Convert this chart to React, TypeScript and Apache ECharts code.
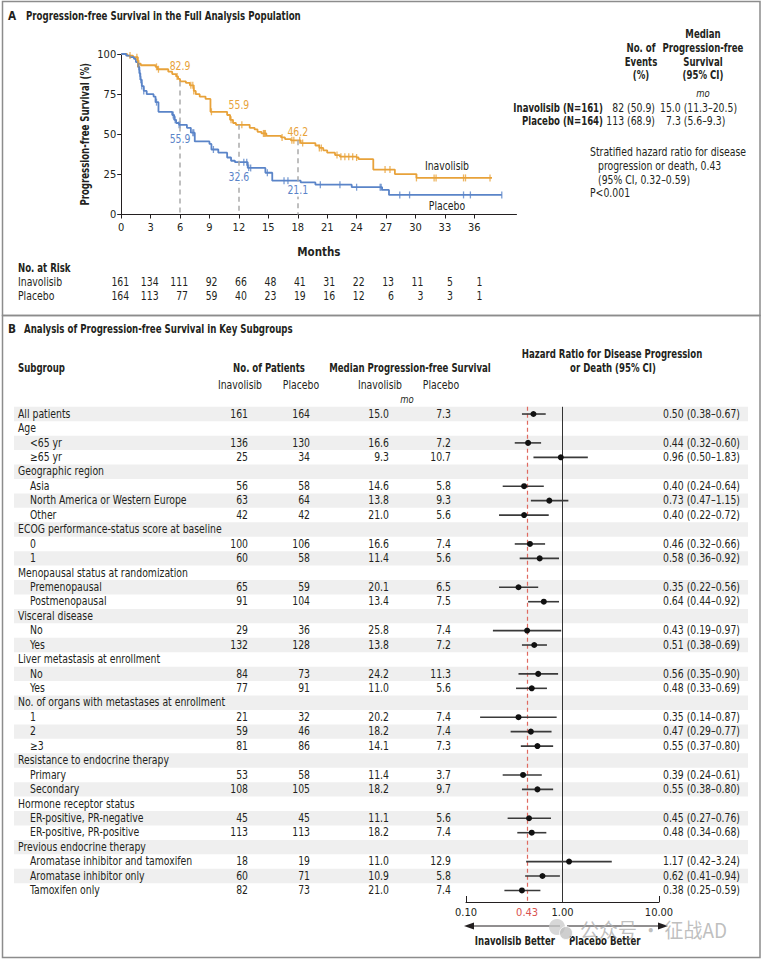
import React, { useEffect, useRef } from "react";
import * as echarts from "echarts";

const FONT = '"DejaVu Sans Condensed", "DejaVu Sans", sans-serif';
const INK = "#231f20";
const ORANGE = "#E8A23A";
const BLUE = "#5A84C8";
const SX_N = 0.9;
const SX_B = 0.83;

// ---------- Panel A data ----------
const monthTicks = [0, 3, 6, 9, 12, 15, 18, 21, 24, 27, 30, 33, 36];
const inavSteps: [number, number][] = [
  [0, 100], [0.6, 99], [1.2, 98], [1.7, 94], [2.0, 93], [3.5, 92], [3.7, 90.5], [4.8, 89], [5.2, 87.5],
  [5.6, 86], [5.8, 84.5], [6.0, 82.9], [6.6, 82], [7.0, 80.5], [7.4, 77], [7.6, 75], [8.0, 73.5], [8.6, 72],
  [9.1, 64], [10.8, 62], [11.1, 59], [11.4, 57], [11.7, 55.9], [13.1, 54], [13.6, 53], [13.9, 51.5],
  [14.3, 50.5], [14.8, 49], [16.3, 48], [16.7, 47], [17.3, 46.2], [18.3, 44.5], [19.8, 43], [20.2, 41.5],
  [20.6, 40], [21.0, 38.5], [21.8, 37], [22.3, 36], [24.0, 35.5], [24.2, 34.5], [25.7, 28], [27.9, 25.2],
  [30.1, 22.8], [37.8, 22.8],
];
const placSteps: [number, number][] = [
  [0, 100], [0.5, 99], [0.9, 98], [1.3, 97], [1.5, 95], [1.7, 92], [1.85, 88], [1.95, 84], [2.1, 80],
  [2.3, 77], [2.6, 75], [3.3, 73.5], [3.5, 70], [3.8, 64], [5.2, 62], [5.4, 59], [5.6, 57], [5.9, 55.9],
  [6.7, 54], [7.1, 51], [7.5, 45.5], [9.0, 44], [9.2, 40.5], [9.9, 38.5], [10.8, 35.5], [11.2, 33.5],
  [11.6, 32.6], [12.9, 29], [14.7, 26], [15.4, 21.1], [18.3, 20], [19.8, 18.6], [23.5, 17], [26.6, 15.3],
  [27.3, 12.2], [38.8, 12.2],
];
const inavCensor = [0.9, 1.6, 1.7, 1.8, 3.6, 3.8, 5.7, 7.1, 7.3, 7.4, 9.2, 11.2, 12.3, 14.5, 14.6, 14.7, 16.4,
  17.4, 17.6, 18.2, 18.5, 20.2, 20.4, 22.0, 22.4, 22.8, 23.2, 23.6, 24.0, 26.9, 27.4, 30.1, 31.9, 32.1, 34.9, 35.1, 37.6];
const placCensor = [1.8, 1.9, 2.0, 2.1, 2.3, 3.6, 5.3, 5.5, 5.9, 6.0, 7.3, 7.4, 9.4, 12.5, 12.8, 13.0, 13.2, 14.9,
  16.6, 17.0, 20.3, 22.3, 24.0, 26.4, 26.5, 28.4, 29.4, 34.9, 35.6, 38.8];
const landmarkMonths = [6, 12, 18];
const inavLandmark = [82.9, 55.9, 46.2];
const placLandmark = [55.9, 32.6, 21.1];
const riskInav = [161, 134, 111, 92, 66, 48, 41, 31, 22, 13, 11, 5, 1];
const riskPlac = [164, 113, 77, 59, 40, 23, 19, 16, 12, 6, 3, 3, 1];

// ---------- Panel B data ----------
const subgroupLabels = [
  "All patients", "Age", "<65 yr", "≥65 yr", "Geographic region", "Asia", "North America or Western Europe", "Other",
  "ECOG performance-status score at baseline", "0", "1", "Menopausal status at randomization", "Premenopausal",
  "Postmenopausal", "Visceral disease", "No", "Yes", "Liver metastasis at enrollment", "No", "Yes",
  "No. of organs with metastases at enrollment", "1", "2", "≥3", "Resistance to endocrine therapy", "Primary",
  "Secondary", "Hormone receptor status", "ER-positive, PR-negative", "ER-positive, PR-positive",
  "Previous endocrine therapy", "Aromatase inhibitor and tamoxifen", "Aromatase inhibitor only", "Tamoxifen only",
];
const subgroupLevel = [0, 0, 1, 1, 0, 1, 1, 1, 0, 1, 1, 0, 1, 1, 0, 1, 1, 0, 1, 1, 0, 1, 1, 1, 0, 1, 1, 0, 1, 1, 0, 1, 1, 1];
const nInav = [161, null, 136, 25, null, 56, 63, 42, null, 100, 60, null, 65, 91, null, 29, 132, null, 84, 77, null, 21, 59, 81, null, 53, 108, null, 45, 113, null, 18, 60, 82];
const nPlac = [164, null, 130, 34, null, 58, 64, 42, null, 106, 58, null, 59, 104, null, 36, 128, null, 73, 91, null, 32, 46, 86, null, 58, 105, null, 45, 113, null, 19, 71, 73];
const medInav = [15.0, null, 16.6, 9.3, null, 14.6, 13.8, 21.0, null, 16.6, 11.4, null, 20.1, 13.4, null, 25.8, 13.8, null, 24.2, 11.0, null, 20.2, 18.2, 14.1, null, 11.4, 18.2, null, 11.1, 18.2, null, 11.0, 10.9, 21.0];
const medPlac = [7.3, null, 7.2, 10.7, null, 5.8, 9.3, 5.6, null, 7.4, 5.6, null, 6.5, 7.5, null, 7.4, 7.2, null, 11.3, 5.6, null, 7.4, 7.4, 7.3, null, 3.7, 9.7, null, 5.6, 7.4, null, 12.9, 5.8, 7.4];
const hr = [0.50, null, 0.44, 0.96, null, 0.40, 0.73, 0.40, null, 0.46, 0.58, null, 0.35, 0.64, null, 0.43, 0.51, null, 0.56, 0.48, null, 0.35, 0.47, 0.55, null, 0.39, 0.55, null, 0.45, 0.48, null, 1.17, 0.62, 0.38];
const hrLo = [0.38, null, 0.32, 0.50, null, 0.24, 0.47, 0.22, null, 0.32, 0.36, null, 0.22, 0.44, null, 0.19, 0.38, null, 0.35, 0.33, null, 0.14, 0.29, 0.37, null, 0.24, 0.38, null, 0.27, 0.34, null, 0.42, 0.41, 0.25];
const hrHi = [0.67, null, 0.60, 1.83, null, 0.64, 1.15, 0.72, null, 0.66, 0.92, null, 0.56, 0.92, null, 0.97, 0.69, null, 0.90, 0.69, null, 0.87, 0.77, 0.80, null, 0.61, 0.80, null, 0.76, 0.68, null, 3.24, 0.94, 0.59];
const overallHR = 0.43;
const hrTicks = [0.1, 0.43, 1, 10];

function survivalAt(steps: [number, number][], t: number) {
  let v = steps[0][1];
  for (const [m, s] of steps) if (m <= t) v = s;
  return v;
}

function T(text: string, x: number, y: number, o: any = {}) {
  return {
    type: "text",
    silent: true,
    z: o.z ?? 10,
    x,
    y,
    rotation: o.rot ?? 0,
    scaleX: o.sx ?? (o.bold ? SX_B : SX_N),
    style: {
      text,
      x: 0,
      y: 0,
      fill: o.fill ?? INK,
      fontSize: o.size ?? 11.5,
      fontWeight: o.bold ? "bold" : "normal",
      fontStyle: o.italic ? "italic" : "normal",
      fontFamily: o.family ?? FONT,
      align: o.align ?? "left",
      verticalAlign: "middle",
      backgroundColor: o.bg,
      padding: o.bg ? [0, 1] : 0,
    },
  };
}

export default function App() {
  const ref = useRef<HTMLDivElement>(null);
  useEffect(() => {
    document.body.style.margin = "0";
    const chart = echarts.init(ref.current!, null, { renderer: "svg" });
    const rows = subgroupLabels.map((_, i) => i);
    const forestData = rows.filter((i) => hr[i] != null).map((i) => [i, hr[i], hrLo[i], hrHi[i]]);

    chart.setOption({
      animation: false,
      backgroundColor: "#fff",
      textStyle: { fontFamily: FONT },
      grid: [
        { left: 121.2, top: 54, width: 395.3, height: 160.5, outerBoundsMode: "none", containLabel: false },
        { left: 466, top: 406.8, width: 193, height: 495.2, outerBoundsMode: "none", containLabel: false },
      ],
      xAxis: [
        {
          type: "value", gridIndex: 0, min: 0, max: 40.3, interval: 3,
          axisLine: { show: true, onZero: false, lineStyle: { color: INK, width: 1 } },
          axisTick: { show: true, customValues: monthTicks, length: 4, lineStyle: { color: INK } },
          axisLabel: { customValues: monthTicks, fontSize: 11, color: INK, margin: 7, fontFamily: FONT },
          splitLine: { show: false },
          name: "Months", nameLocation: "middle", nameGap: 31,
          nameTextStyle: { fontWeight: "bold", fontSize: 11.5, color: INK, fontFamily: FONT },
        },
        {
          type: "log", logBase: 10, gridIndex: 1, min: 0.1, max: 10, position: "bottom",
          axisLine: { show: true, onZero: false, lineStyle: { color: INK, width: 1 } },
          axisTick: { show: true, customValues: [0.1, 10], inside: true, length: 6, lineStyle: { color: INK } },
          axisLabel: {
            customValues: hrTicks, fontSize: 11, margin: 5, fontFamily: FONT,
            formatter: (v: number) => Number(v).toFixed(2),
            color: (v: any) => (Math.abs(Number(v) - overallHR) < 1e-6 ? "#d9534f" : INK),
          },
          splitLine: { show: false },
        },
      ],
      yAxis: [
        {
          type: "value", gridIndex: 0, min: 0, max: 100, interval: 25,
          axisLine: { show: true, onZero: false, lineStyle: { color: INK, width: 1 } },
          axisTick: { show: true, length: 4, lineStyle: { color: INK } },
          axisLabel: { fontSize: 11, color: INK, margin: 5, fontFamily: FONT },
          splitLine: { show: false },
        },
        { type: "value", gridIndex: 1, min: -0.5, max: 33.8, inverse: true, show: false },
      ],
      series: [
        {
          type: "line", xAxisIndex: 0, yAxisIndex: 0, data: inavSteps, step: "end", showSymbol: false,
          lineStyle: { color: ORANGE, width: 1.8 }, z: 3,
          markLine: {
            silent: true, symbol: "none", label: { show: false },
            lineStyle: { color: "#aaa", type: [5, 4], width: 1.5 },
            data: landmarkMonths.map((m, k) => [{ coord: [m, inavLandmark[k]] }, { coord: [m, 0] }]),
          },
        },
        {
          type: "line", xAxisIndex: 0, yAxisIndex: 0, data: placSteps, step: "end", showSymbol: false,
          lineStyle: { color: BLUE, width: 1.8 }, z: 3,
        },
        {
          type: "scatter", xAxisIndex: 0, yAxisIndex: 0, symbol: "rect", symbolSize: [1.3, 7],
          itemStyle: { color: ORANGE }, data: inavCensor.map((t) => [t, survivalAt(inavSteps, t)]), z: 4,
        },
        {
          type: "scatter", xAxisIndex: 0, yAxisIndex: 0, symbol: "rect", symbolSize: [1.3, 7],
          itemStyle: { color: BLUE }, data: placCensor.map((t) => [t, survivalAt(placSteps, t)]), z: 4,
        },
        {
          type: "custom", xAxisIndex: 1, yAxisIndex: 1, data: forestData, encode: { x: [2, 3], y: 0 }, z: 5,
          renderItem: (params: any, api: any) => {
            const row = api.value(0);
            const pHr = api.coord([api.value(1), row]);
            const pLo = api.coord([api.value(2), row]);
            const pHi = api.coord([api.value(3), row]);
            return {
              type: "group",
              children: [
                { type: "line", shape: { x1: pLo[0], y1: pLo[1], x2: pHi[0], y2: pHi[1] }, style: { stroke: "#3a3a3a", lineWidth: 1.6 } },
                { type: "circle", shape: { cx: pHr[0], cy: pHr[1], r: 3 }, style: { fill: "#111" } },
              ],
            };
          },
          markLine: {
            silent: true, symbol: "none", label: { show: false },
            data: [
              { xAxis: 1, lineStyle: { color: "#333", type: "solid", width: 1 } },
              { xAxis: overallHR, lineStyle: { color: "#e06a60", type: [4, 3], width: 1.2 } },
            ],
          },
        },
      ],
    });

    const g: any[] = [];
    g.push({ type: "rect", silent: true, shape: { x: 2.5, y: 1.5, width: 757.5, height: 314 }, style: { fill: "none", stroke: "#8c8c8c", lineWidth: 1.5 } });
    g.push({ type: "rect", silent: true, shape: { x: 2.5, y: 315.5, width: 757.5, height: 642 }, style: { fill: "none", stroke: "#8c8c8c", lineWidth: 1.5 } });
    g.push(T("A", 8, 16, { bold: true, size: 13, sx: 0.9 }));
    g.push(T("Progression-free Survival in the Full Analysis Population", 26, 16, { bold: true, size: 12, sx: 0.8 }));
    g.push(T("B", 8, 329, { bold: true, size: 13, sx: 0.9 }));
    g.push(T("Analysis of Progression-free Survival in Key Subgroups", 24, 329, { bold: true, size: 12, sx: 0.8 }));

    // y axis title (rotated)
    const yMid = chart.convertToPixel({ yAxisIndex: 0 }, 50) as number;
    g.push(T("Progression-free Survival (%)", 85, yMid, { bold: true, align: "center", rot: Math.PI / 2, size: 11.5 }));

    const dyI = [-15, -19, -8];
    const dyP = [15, 15, 10];
    landmarkMonths.forEach((m, k) => {
      const pi = chart.convertToPixel({ seriesIndex: 0 }, [m, inavLandmark[k]]) as number[];
      const pp = chart.convertToPixel({ seriesIndex: 1 }, [m, placLandmark[k]]) as number[];
      g.push(T(inavLandmark[k].toFixed(1), pi[0], pi[1] + dyI[k], { fill: ORANGE, align: "center" }));
      g.push(T(placLandmark[k].toFixed(1), pp[0], pp[1] + dyP[k], { fill: BLUE, align: "center", bg: "#fff" }));
    });
    g.push(T("Inavolisib", 447, 166, { align: "center" }));
    g.push(T("Placebo", 447, 206, { align: "center" }));

    g.push(T("No. at Risk", 18, 268, { bold: true }));
    g.push(T("Inavolisib", 18, 282));
    g.push(T("Placebo", 18, 296));
    monthTicks.forEach((m, k) => {
      const x = (chart.convertToPixel({ xAxisIndex: 0 }, m) as number) + 8;
      g.push(T(String(riskInav[k]), x, 282, { align: "right" }));
      g.push(T(String(riskPlac[k]), x, 296, { align: "right" }));
    });

    g.push(T("Median", 703, 34, { bold: true, align: "center" }));
    g.push(T("No. of", 641, 48, { bold: true, align: "center" }));
    g.push(T("Progression-free", 703, 48, { bold: true, align: "center" }));
    g.push(T("Events", 641, 62, { bold: true, align: "center" }));
    g.push(T("Survival", 703, 62, { bold: true, align: "center" }));
    g.push(T("(%)", 641, 75, { bold: true, align: "center" }));
    g.push(T("(95% CI)", 703, 75, { bold: true, align: "center" }));
    g.push(T("mo", 703, 93, { italic: true, align: "center", size: 10.5 }));
    g.push(T("Inavolisib (N=161)", 603, 108, { bold: true, align: "right" }));
    g.push(T("Placebo (N=164)", 603, 121, { bold: true, align: "right" }));
    g.push(T("82 (50.9)", 655, 108, { align: "right" }));
    g.push(T("113 (68.9)", 655, 121, { align: "right" }));
    g.push(T("15.0 (11.3–20.5)", 660, 108));
    g.push(T("7.3 (5.6–9.3)", 666, 121));
    g.push(T("Stratified hazard ratio for disease", 590, 152));
    g.push(T("progression or death, 0.43", 598, 166));
    g.push(T("(95% CI, 0.32–0.59)", 598, 180));
    g.push(T("P<0.001", 590, 193));

    g.push(T("Hazard Ratio for Disease Progression", 612, 354, { bold: true, align: "center" }));
    g.push(T("or Death (95% CI)", 613, 368, { bold: true, align: "center" }));
    g.push(T("Subgroup", 18, 368, { bold: true }));
    g.push(T("No. of Patients", 269, 368, { bold: true, align: "center" }));
    g.push(T("Median Progression-free Survival", 410, 368, { bold: true, align: "center" }));
    g.push(T("Inavolisib", 240, 385, { align: "center" }));
    g.push(T("Placebo", 301, 385, { align: "center" }));
    g.push(T("Inavolisib", 380, 385, { align: "center" }));
    g.push(T("Placebo", 441, 385, { align: "center" }));
    g.push(T("mo", 407, 399, { italic: true, align: "center", size: 10.5 }));

    const y0 = chart.convertToPixel({ yAxisIndex: 1 }, 0) as number;
    const y1 = chart.convertToPixel({ yAxisIndex: 1 }, 1) as number;
    const pitch = y1 - y0;
    rows.forEach((i) => {
      const y = chart.convertToPixel({ yAxisIndex: 1 }, i) as number;
      if (i % 2 === 0) {
        g.push({ type: "rect", silent: true, z: -10, shape: { x: 14, y: y - pitch / 2, width: 734, height: pitch }, style: { fill: "#efefef" } });
      }
      g.push(T(subgroupLabels[i], subgroupLevel[i] ? 30 : 18, y));
      if (nInav[i] != null) {
        g.push(T(String(nInav[i]), 248, y, { align: "right" }));
        g.push(T(String(nPlac[i]), 310, y, { align: "right" }));
        g.push(T((medInav[i] as number).toFixed(1), 389, y, { align: "right" }));
        g.push(T((medPlac[i] as number).toFixed(1), 451, y, { align: "right" }));
        g.push(T(`${(hr[i] as number).toFixed(2)} (${(hrLo[i] as number).toFixed(2)}–${(hrHi[i] as number).toFixed(2)})`, 740, y, { align: "right" }));
      }
    });

    const xa = chart.convertToPixel({ xAxisIndex: 1 }, 0.1) as number;
    const xb = chart.convertToPixel({ xAxisIndex: 1 }, 10) as number;
    const ya = 926;
    g.push({ type: "line", silent: true, shape: { x1: xa + 6, y1: ya, x2: 560, y2: ya }, style: { stroke: INK, lineWidth: 1 } });
    g.push({ type: "polygon", silent: true, shape: { points: [[xa - 2, ya], [xa + 8, ya - 3.5], [xa + 8, ya + 3.5]] }, style: { fill: INK } });
    g.push({ type: "line", silent: true, shape: { x1: 567, y1: ya, x2: xb + 2, y2: ya }, style: { stroke: INK, lineWidth: 1 } });
    g.push({ type: "polygon", silent: true, shape: { points: [[xb + 9, ya], [xb - 1, ya - 3.5], [xb - 1, ya + 3.5]] }, style: { fill: INK } });
    g.push(T("Inavolisib Better", 555, 941, { bold: true, align: "right" }));
    g.push(T("Placebo Better", 569, 941, { bold: true }));

    g.push({ type: "circle", silent: true, z: 20, shape: { cx: 557, cy: 927, r: 8 }, style: { fill: "#c9c9c9", opacity: 0.75 } });
    g.push({ type: "circle", silent: true, z: 21, shape: { cx: 566, cy: 933, r: 6.5 }, style: { fill: "#bdbdbd", opacity: 0.75, stroke: "#fff", lineWidth: 1 } });
    g.push(T("公众号 · 征战AD", 580, 929, { family: '"Noto Sans CJK SC", sans-serif', size: 20, sx: 0.95, fill: "rgba(170,170,170,0.75)", z: 20 }));

    chart.setOption({ graphic: { elements: g } });
    return () => chart.dispose();
  }, []);
  return <div ref={ref} style={{ position: "absolute", left: 0, top: 0, width: 763, height: 960, background: "#fff" }} />;
}
